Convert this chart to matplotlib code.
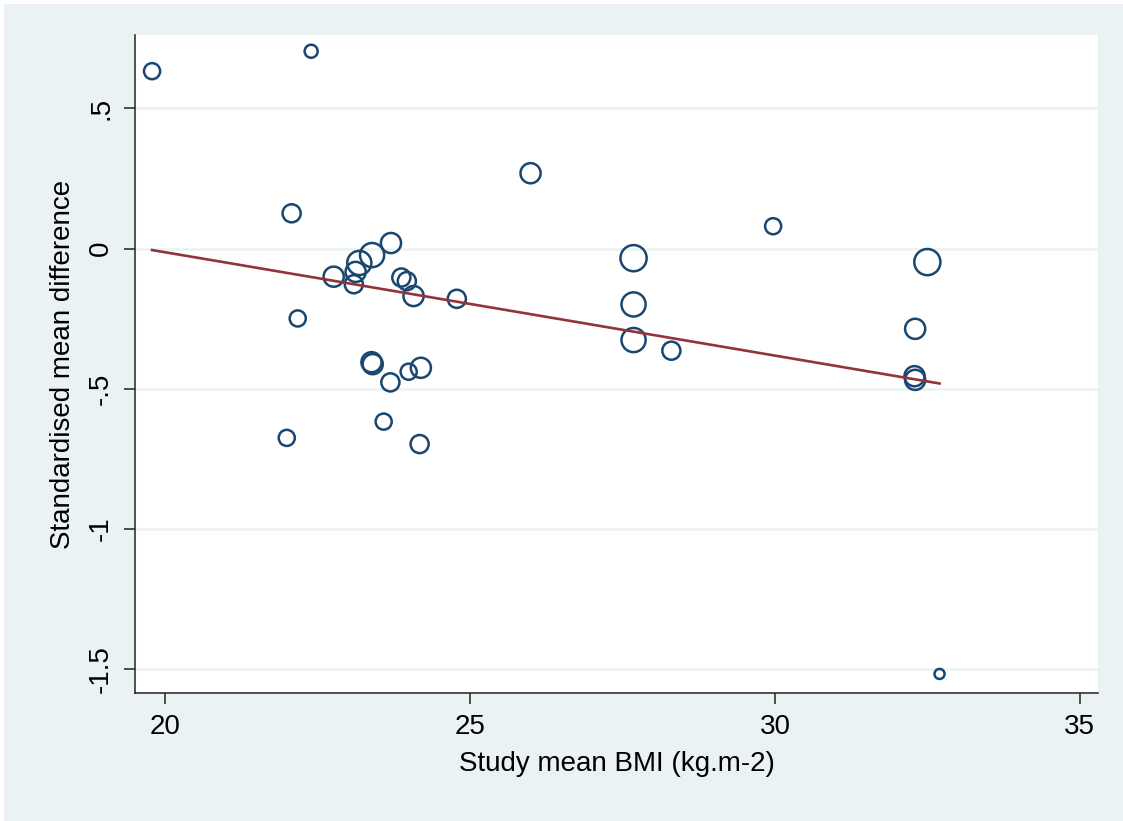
import matplotlib
matplotlib.use("Agg")
import matplotlib.pyplot as plt
import numpy as np
from matplotlib.patches import Rectangle

# study level data
bmi = [19.78, 22.39, 22.07, 25.99, 29.97, 27.68, 32.50, 23.70, 23.39, 23.18, 23.12,
       22.76, 23.09, 23.87, 23.96, 24.07, 24.78, 22.17, 23.38, 23.40, 24.19, 23.99,
       23.69, 23.58, 21.99, 24.17, 27.68, 27.68, 28.30, 32.30, 32.29, 32.30, 32.70]
smd = [0.633, 0.704, 0.126, 0.269, 0.080, -0.034, -0.048, 0.020, -0.023, -0.051, -0.083,
       -0.100, -0.127, -0.103, -0.116, -0.169, -0.179, -0.249, -0.405, -0.412, -0.425, -0.439,
       -0.477, -0.617, -0.675, -0.697, -0.199, -0.326, -0.364, -0.286, -0.455, -0.468, -1.517]
# relative study weights (bubble area)
weights = [64, 42, 81, 100, 64, 169, 169, 100, 144, 144, 100,
           100, 81, 81, 81, 100, 81, 64, 100, 100, 100, 64,
           81, 64, 64, 81, 144, 144, 81, 100, 100, 100, 25]

# meta-regression fit
meta_const = 0.7237
meta_slope = -0.03684

xticks = [20, 25, 30, 35]
yticks = [0.5, 0, -0.5, -1, -1.5]
ytick_labels = [".5", "0", "-.5", "-1", "-1.5"]

bg = "#EAF2F3"
navy = "#1A476F"
maroon = "#93333A"

plt.rcParams['font.family'] = ['Liberation Sans', 'DejaVu Sans']

fig = plt.figure(figsize=(11.23, 8.21), dpi=100, facecolor=bg)
# thin white strip at top and left, as in the screenshot
fig.patches.append(Rectangle((0, 0), 4 / 1123, 1, transform=fig.transFigure,
                             facecolor="white", edgecolor="none", zorder=-1))
fig.patches.append(Rectangle((0, 1 - 4 / 821), 1, 4 / 821, transform=fig.transFigure,
                             facecolor="white", edgecolor="none", zorder=-1))

ax = fig.add_axes([135 / 1123, 1 - 693.3 / 821, (1098 - 135) / 1123, (693.3 - 35) / 821])
ax.set_facecolor("white")

for yv in yticks:
    ax.axhline(yv, color=bg, lw=1.8, zorder=0)

sizes = np.array(weights) * 2.1
ax.scatter(bmi, smd, s=sizes, facecolors="none", edgecolors=navy, linewidths=1.8, zorder=3)

xfit = np.array([min(bmi), max(bmi)])
ax.plot(xfit, meta_const + meta_slope * xfit, color=maroon, lw=1.9, zorder=4)

ax.set_xlim(19.5, 35.3)
ax.set_ylim(-1.586, 0.762)

ax.set_xticks(xticks)
ax.set_xticklabels([str(t) for t in xticks])
ax.set_yticks(yticks)
ax.set_yticklabels(ytick_labels, rotation=90, va="center")

ax.tick_params(axis="both", direction="out", length=8, width=1.1, color="#222222",
               labelsize=20, pad=7)
ax.tick_params(axis="y", pad=7)

for side in ["top", "right"]:
    ax.spines[side].set_visible(False)
for side in ["left", "bottom"]:
    ax.spines[side].set_color("#222222")
    ax.spines[side].set_linewidth(1.1)

ax.set_xlabel("Study mean BMI (kg.m-2)", fontsize=20, labelpad=8)
ax.set_ylabel("Standardised mean difference", fontsize=20, labelpad=9)

fig.savefig("out.png", dpi=100, facecolor=bg)
